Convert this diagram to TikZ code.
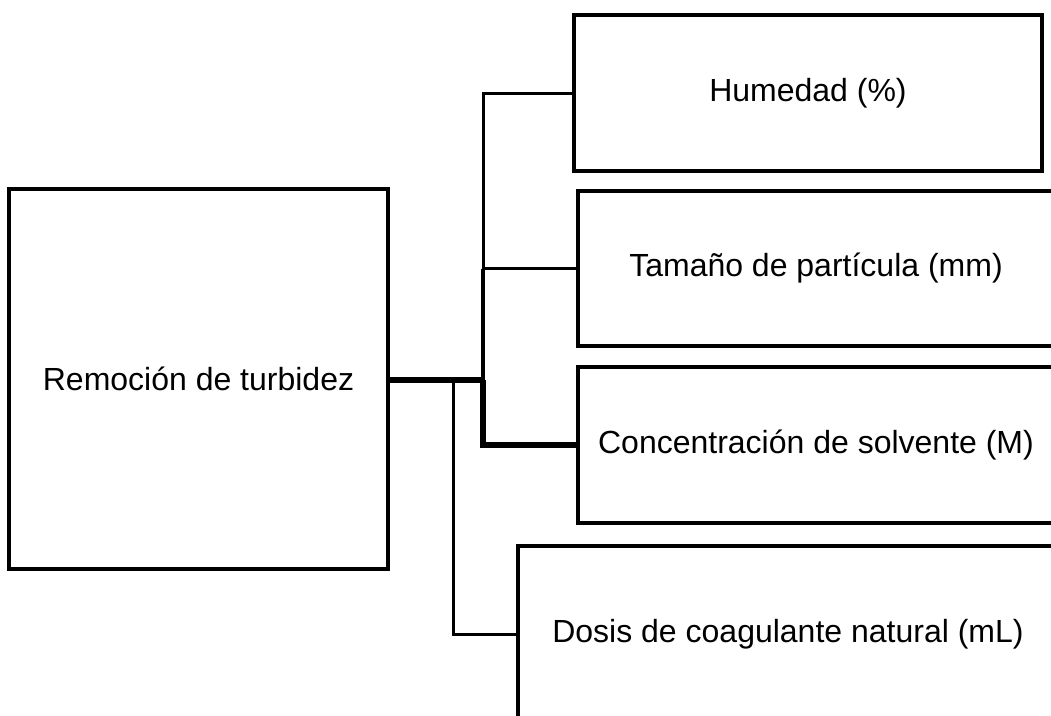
\documentclass[tikz,border=0pt]{standalone}
\usepackage{fontspec}
\setmainfont{Liberation Sans}
\begin{document}
\begin{tikzpicture}[x=1pt,y=-1pt,
  box/.style={draw=black,line width=4pt,rectangle,inner sep=0pt,align=center,
    font=\fontsize{32}{38}\selectfont},
  thinline/.style={draw=black,line width=3pt},
  midline/.style={draw=black,line width=4.5pt},
  thickline/.style={draw=black,line width=6pt}]
\useasboundingbox (0,0) rectangle (1051,715);
\node[box,minimum width=379pt,minimum height=380pt] (root) at (198.5,379) {Remoción de turbidez};
\node[box,minimum width=468pt,minimum height=156pt] (hum) at (808,93) {Humedad (\%)};
\node[box,minimum width=476pt,minimum height=155pt] (tam) at (816,268.5) {Tamaño de partícula (mm)};
\node[box,minimum width=476pt,minimum height=156pt] (conc) at (816,445) {Concentración de solvente (M)};
\node[box,minimum width=540pt,minimum height=176pt] (dos) at (788,634) {Dosis de coagulante natural (mL)};
\coordinate (j) at (483,380);
\coordinate (jd) at (453,380);
\coordinate (jt) at (483,268.5);
\draw[thickline] (root.east |- j) -- (j);
\draw[thickline,line join=miter] (j) |- (conc.west);
\draw[midline] (j) -- (jt);
\draw[thinline] (jt) -- (tam.west);
\draw[thinline,line join=miter] (jt) |- (hum.west);
\draw[thinline,line join=miter] (jd) |- (dos.west);
\end{tikzpicture}
\end{document}
